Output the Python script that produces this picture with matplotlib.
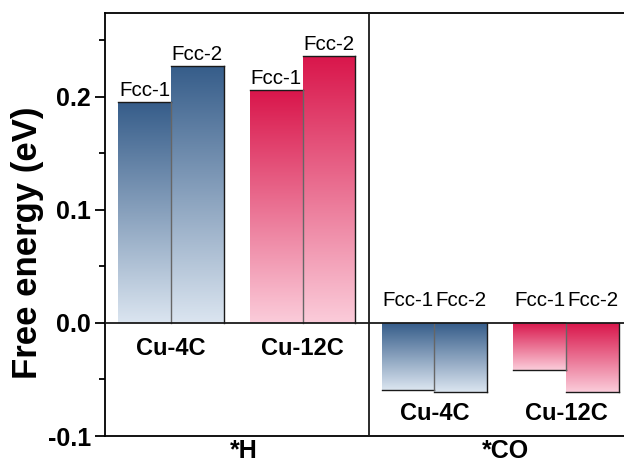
import numpy as np
import matplotlib
matplotlib.use("Agg")
import matplotlib.pyplot as plt
from matplotlib.colors import LinearSegmentedColormap

plt.rcParams["font.family"] = ["Liberation Sans", "DejaVu Sans"]

# data
groups = ["Cu-4C", "Cu-12C", "Cu-4C", "Cu-12C"]
group_x = [1.25, 3.75, 6.25, 8.75]
sites = ["Fcc-1", "Fcc-2"]
fcc1 = [0.195, 0.206, -0.059, -0.042]
fcc2 = [0.227, 0.236, -0.061, -0.061]
adsorbates = ["*H", "*CO"]

blue = LinearSegmentedColormap.from_list("b", ["#dbe5f0", "#365d8a"])
pink = LinearSegmentedColormap.from_list("p", ["#fbccda", "#d9164b"])
cmaps = [blue, pink, blue, pink]

fig = plt.figure(figsize=(6.24, 4.66), dpi=100)
ax = fig.add_axes([105/624, 30/466, 527/624, 423/466])

grad = np.linspace(0, 1, 256).reshape(-1, 1)

for i, gx in enumerate(group_x):
    for j, vals in enumerate([fcc1, fcc2]):
        v = vals[i]
        x0 = gx - 1 + j
        x1 = x0 + 1
        lo, hi = min(0, v), max(0, v)
        ax.imshow(grad, extent=(x0, x1, lo, hi), origin="lower", aspect="auto",
                  cmap=cmaps[i], zorder=1)
        # outline: far end + right side
        ax.plot([x0, x1], [v, v], color="#1a1a1a", lw=1.0, zorder=2)
        ec = "#1a1a1a" if j == 1 else "#666666"
        ax.plot([x1, x1], [0, v], color=ec, lw=1.0, zorder=2)
        # site label
        if v > 0:
            ax.text(x0 + 0.5, v + 0.002, sites[j], ha="center", va="bottom", fontsize=14.8)
        else:
            ax.text(x0 + 0.5, 0.011, sites[j], ha="center", va="bottom", fontsize=14.8)
    # group label
    if fcc1[i] > 0:
        ax.text(gx, -0.023, groups[i], ha="center", va="center", fontsize=17, fontweight="bold")
    else:
        ax.text(gx, min(fcc1[i], fcc2[i]) - 0.019, groups[i], ha="center", va="center",
                fontsize=17, fontweight="bold")

ax.axhline(0, color="#1a1a1a", lw=1.3, zorder=3)
ax.axvline(5, color="#1a1a1a", lw=1.3, zorder=3)

ax.set_xlim(0, 10)
ax.set_ylim(-0.1, 0.274)
ax.set_xticks([])
ax.set_yticks([-0.1, 0.0, 0.1, 0.2])
ax.set_yticklabels(["-0.1", "0.0", "0.1", "0.2"])
ax.set_yticks([-0.05, 0.05, 0.15, 0.25], minor=True)
ax.tick_params(axis="y", which="major", length=7, width=1.3, labelsize=18, direction="out", pad=3)
ax.tick_params(axis="y", which="minor", length=4, width=1.3, direction="out")
for lab in ax.get_yticklabels():
    lab.set_fontweight("bold")
for s in ["left", "top", "bottom"]:
    ax.spines[s].set_linewidth(1.3)
ax.spines["right"].set_visible(False)

fig.text(27.5/624, 1 - 243/466, "Free energy (eV)", rotation=90, ha="center", va="center",
         fontsize=25, fontweight="bold")

for k, name in enumerate(adsorbates):
    ax.text([2.64, 7.6][k], -0.1135, name, ha="center", va="center", fontsize=18,
            fontweight="bold", clip_on=False)

fig.savefig("out.png", dpi=100)
